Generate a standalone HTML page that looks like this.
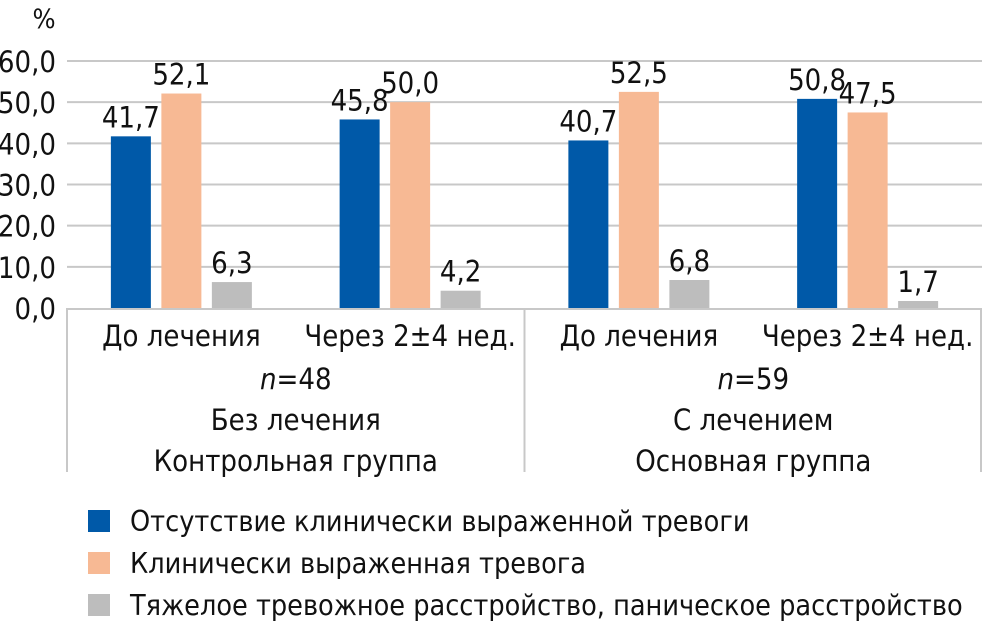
<!DOCTYPE html>
<html><head><meta charset="utf-8"><style>
html,body{margin:0;padding:0;background:#fff;width:982px;height:632px;overflow:hidden}
svg text{font-family:"Liberation Sans Narrow","DejaVu Sans Condensed","Liberation Sans",sans-serif;fill:#111}
</style></head><body>
<svg id="chart" width="982" height="632" xmlns="http://www.w3.org/2000/svg"></svg>
<script>
const categories=["До лечения","Через 2±4 нед.","До лечения","Через 2±4 нед."];
const seriesNames=["Отсутствие клинически выраженной тревоги","Клинически выраженная тревога","Тяжелое тревожное расстройство, паническое расстройство"];
const seriesBlue=[41.7,45.8,40.7,50.8];
const seriesOrange=[52.1,50.0,52.5,47.5];
const seriesGray=[6.3,4.2,6.8,1.7];
const yTicks=[0,10,20,30,40,50,60];
const groupLabels=[["n=48","Без лечения","Контрольная группа"],["n=59","С лечением","Основная группа"]];
const colors=["#0059a8","#f7b994","#bdbdbd"];
const NS="http://www.w3.org/2000/svg";
const svg=document.getElementById('chart');
function mk(t,a,p){const e=document.createElementNS(NS,t);for(const k in a)e.setAttribute(k,a[k]);(p||svg).appendChild(e);return e;}
const x0=67,x1=982,y0=308,yTop=61,yMax=60;
const y=v=>y0-(v/yMax)*(y0-yTop);
const catW=(x1-x0)/categories.length;
const cx=i=>x0+catW*(i+0.5);
const FS=29;
yTicks.forEach(t=>{
  if(t>0){const g=mk('line',{x1:x0,x2:x1,y1:y(t),y2:y(t),stroke:'#c8c8c8','stroke-width':2});
  }
  const l=mk('text',{x:56,y:y(t)+11,'text-anchor':'end','font-size':FS});
  l.textContent=t.toFixed(1).replace('.',',');
  
});
const pct=mk('text',{x:44,y:28,'font-size':27,'text-anchor':'middle'});pct.textContent='%';

const ax=mk('line',{x1:x0,x2:x1,y1:y0+1,y2:y0+1,stroke:'#c8c8c8','stroke-width':2});

[x0,(x0+x1)/2,x1-1].forEach(sx=>{const s=mk('line',{x1:sx,x2:sx,y1:y0,y2:472,stroke:'#c8c8c8','stroke-width':2});
});
const series=[seriesBlue,seriesOrange,seriesGray];
const bw=40,gap=10.5;
categories.forEach((c,i)=>{
  series.forEach((s,j)=>{
    const bx=cx(i)-(bw*1.5+gap)+j*(bw+gap);
    const r=mk('rect',{x:bx,y:y(s[i]),width:bw,height:y0-y(s[i]),fill:colors[j]});
    
    const t=mk('text',{x:bx+bw/2,y:y(s[i])-9,'text-anchor':'middle','font-size':FS});
    t.textContent=s[i].toFixed(1).replace('.',',');
    
  });
  const cl=mk('text',{x:cx(i),y:346,'text-anchor':'middle','font-size':FS});cl.textContent=c;
  
});
groupLabels.forEach((g,i)=>{
  const gx=x0+(x1-x0)/4*(2*i+1);
  g.forEach((txt,k)=>{
    const t=mk('text',{x:gx,y:389+k*41,'text-anchor':'middle','font-size':FS});
    if(k===0){const it=mk('tspan',{'font-style':'italic'},t);it.textContent='n';const r=mk('tspan',{},t);r.textContent=txt.slice(1);}
    else t.textContent=txt;
    
  });
});
seriesNames.forEach((n,j)=>{
  const yy=510+j*42;
  const sq=mk('rect',{x:88,y:yy,width:22,height:22,fill:colors[j]});
  
  const t=mk('text',{x:130,y:yy+21,'font-size':28.5});t.textContent=n;
  
});
</script>
</body></html>
